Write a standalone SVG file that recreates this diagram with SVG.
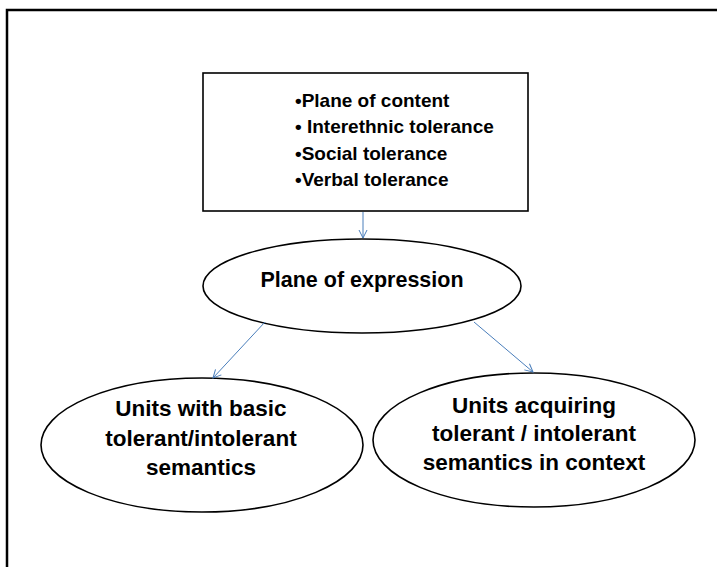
<svg xmlns="http://www.w3.org/2000/svg" width="717" height="567" viewBox="0 0 717 567">
<defs>
<style>
.t{font-family:"Liberation Sans",Arial,sans-serif;font-weight:bold;fill:#000}
.c{font-size:21.5px;text-anchor:middle}
.d{font-size:22.5px;text-anchor:middle}
.b{font-size:19px}
.n{fill:#fff;stroke:#000;stroke-width:1.6}
.e{stroke:#4a7ebb;stroke-width:1;fill:none}
</style>
<marker id="ah" markerWidth="10" markerHeight="10" refX="9" refY="5" orient="auto" markerUnits="userSpaceOnUse">
<path d="M1,1 L9,5 L1,9" fill="none" stroke="#4a7ebb" stroke-width="1"/>
</marker>
</defs>
<rect width="717" height="567" fill="#fff"/>
<path d="M7,567 V10 H717" fill="none" stroke="#000" stroke-width="2.5"/>
<g id="content">
<rect class="n" x="203" y="73" width="325" height="138"/>
<text class="t b" x="295" y="107">•Plane of content</text>
<text class="t b" x="295" y="133">• Interethnic tolerance</text>
<text class="t b" x="295" y="160">•Social tolerance</text>
<text class="t b" x="295" y="186">•Verbal tolerance</text>
</g>
<g id="expression">
<ellipse class="n" cx="362" cy="286" rx="159" ry="47"/>
<text class="t c" x="362" y="287">Plane of expression</text>
</g>
<g id="basic">
<ellipse class="n" cx="202" cy="445" rx="161" ry="67"/>
<text class="t d" x="201" y="416">Units with basic</text>
<text class="t d" x="201" y="446">tolerant/intolerant</text>
<text class="t d" x="201" y="475">semantics</text>
</g>
<g id="acquiring">
<ellipse class="n" cx="534" cy="440" rx="161" ry="67"/>
<text class="t d" x="534" y="413">Units acquiring</text>
<text class="t d" x="534" y="441">tolerant / intolerant</text>
<text class="t d" x="534" y="470">semantics in context</text>
</g>
<g id="connectors">
<line class="e" x1="363" y1="212" x2="363" y2="238" marker-end="url(#ah)"/>
<line class="e" x1="265" y1="322" x2="213" y2="378" marker-end="url(#ah)"/>
<line class="e" x1="474" y1="322" x2="533" y2="372" marker-end="url(#ah)"/>
</g>
</svg>
